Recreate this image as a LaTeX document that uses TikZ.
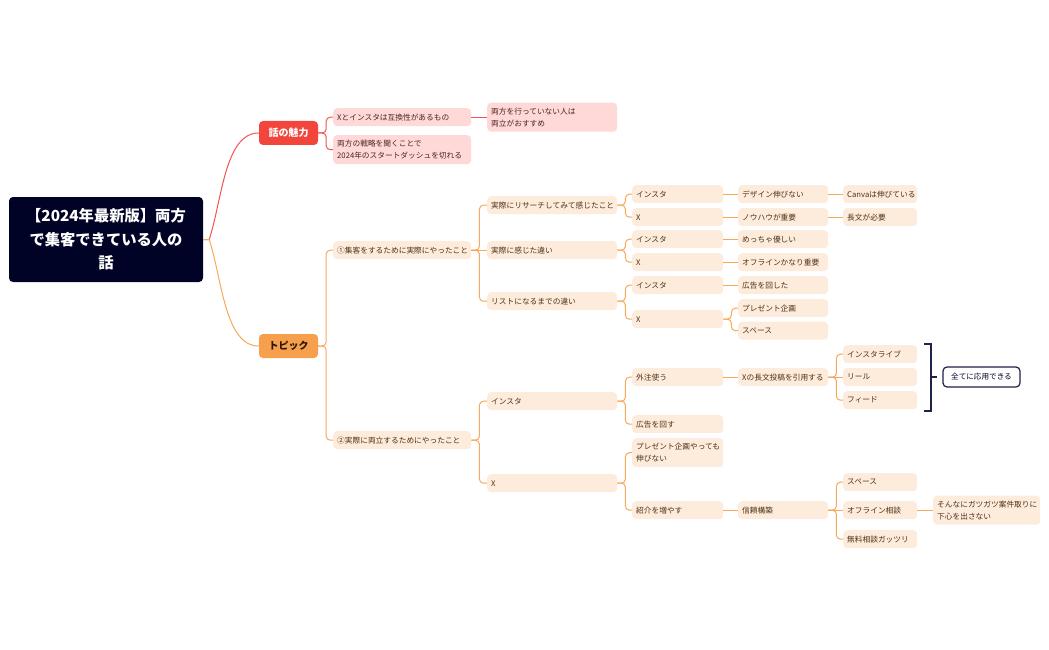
\documentclass[tikz,border=0pt]{standalone}
\usepackage{fontspec}
\newfontfamily\jp{Noto Sans CJK JP}
\definecolor{rootc}{HTML}{000326}
\definecolor{redc}{HTML}{F2463D}
\definecolor{orgc}{HTML}{F6A04D}
\definecolor{pinkbg}{HTML}{FFD8D8}
\definecolor{peachbg}{HTML}{FDEBDC}
\definecolor{redln}{HTML}{F2544E}
\definecolor{orgln}{HTML}{F7A85A}
\definecolor{navy}{HTML}{1E2148}
\definecolor{pinktext}{HTML}{4F2222}
\definecolor{browntext}{HTML}{503214}
\definecolor{topictext}{HTML}{2B1705}
\tikzset{
  basebox/.style={anchor=north west, rounded corners=4pt, inner xsep=4pt, inner ysep=0pt, align=left,
    font=\jp\fontsize{7.7}{12}\selectfont},
  pk/.style={basebox, fill=pinkbg, text=pinktext},
  pc/.style={basebox, fill=peachbg, text=browntext},
  rline/.style={draw=redln, color=redln, line width=1pt, rounded corners=4pt},
  oline/.style={draw=orgln, color=orgln, line width=1pt, rounded corners=4pt},
  mainbox/.style={rounded corners=4pt, minimum width=59pt, minimum height=24pt, inner sep=0pt,
    font=\jp\bfseries\fontsize{10}{12}\selectfont},
}
\newcommand{\mmnode}[7]{\pgfmathsetmacro{\mmtw}{#5-8}\node[#1, text width=\mmtw pt, minimum height=#6pt] (#2) at (#3,#4) {#7};}
\begin{document}
\begin{tikzpicture}[x=1pt,y=-1pt]
\useasboundingbox (0,0) rectangle (1049,650);

% root
\node[fill=rootc, text=white, rounded corners=4pt, minimum width=194pt, minimum height=85pt,
  text width=186pt, inner xsep=4pt, align=center, font=\jp\bfseries\fontsize{15.3}{23.5}\selectfont]
  (root) at (106,239.5) {【2024年最新版】両方\\で集客できている人の\\話};

\node[mainbox, fill=redc, text=white] (miryoku) at (288.5,133) {話の魅力};
\node[mainbox, fill=orgc, text=topictext] (topic) at (288.5,346) {トピック};

% red branch
\mmnode{pk}{r1}{333}{108}{138}{18}{Xとインスタは互換性があるもの}
\mmnode{pk}{r2}{333}{135}{138}{29}{両方の戦略を聞くことで\\2024年のスタートダッシュを切れる}
\mmnode{pk}{r3}{487}{102.5}{130}{29}{両方を行っていない人は\\両立がおすすめ}

% orange branch
\mmnode{pc}{o1}{333}{241}{138}{18}{①集客をするために実際にやったこと}
\mmnode{pc}{o2}{333}{431}{138}{18}{②実際に両立するためにやったこと}

\mmnode{pc}{a1}{487}{196}{130}{18}{実際にリサーチしてみて感じたこと}
\mmnode{pc}{a2}{487}{241}{130}{18}{実際に感じた違い}
\mmnode{pc}{a3}{487}{292}{130}{18}{リストになるまでの違い}
\mmnode{pc}{b1}{487}{392}{130}{18}{インスタ}
\mmnode{pc}{b2}{487}{474}{130}{18}{X}

\mmnode{pc}{c1}{632}{185}{91}{18}{インスタ}
\mmnode{pc}{c2}{632}{208}{91}{18}{X}
\mmnode{pc}{c3}{632}{230}{91}{18}{インスタ}
\mmnode{pc}{c4}{632}{253}{91}{18}{X}
\mmnode{pc}{c5}{632}{276}{91}{18}{インスタ}
\mmnode{pc}{c6}{632}{310}{91}{18}{X}
\mmnode{pc}{d1}{632}{368}{91}{18}{外注使う}
\mmnode{pc}{d2}{632}{415}{91}{18}{広告を回す}
\mmnode{pc}{d3}{632}{438}{91}{29}{プレゼント企画やっても\\伸びない}
\mmnode{pc}{d4}{632}{501}{91}{18}{紹介を増やす}

\mmnode{pc}{e1}{738}{185}{90}{18}{デザイン伸びない}
\mmnode{pc}{e2}{738}{208}{90}{18}{ノウハウが重要}
\mmnode{pc}{e3}{738}{230}{90}{18}{めっちゃ優しい}
\mmnode{pc}{e4}{738}{253}{90}{18}{オフラインかなり重要}
\mmnode{pc}{e5}{738}{276}{90}{18}{広告を回した}
\mmnode{pc}{e6}{738}{299}{90}{18}{プレゼント企画}
\mmnode{pc}{e7}{738}{321.5}{90}{18}{スペース}
\mmnode{pc}{e8}{738}{368}{90}{18}{Xの長文投稿を引用する}
\mmnode{pc}{e9}{738}{501}{90}{18}{信頼構築}

\mmnode{pc}{f1}{843}{185}{74}{18}{Canvaは伸びている}
\mmnode{pc}{f2}{843}{208}{74}{18}{長文が必要}
\mmnode{pc}{f3}{843}{345}{74}{18}{インスタライブ}
\mmnode{pc}{f4}{843}{368}{74}{18}{リール}
\mmnode{pc}{f5}{843}{391}{74}{18}{フィード}
\mmnode{pc}{f6}{843}{473}{74}{18}{スペース}
\mmnode{pc}{f7}{843}{501}{74}{18}{オフライン相談}
\mmnode{pc}{f8}{843}{530}{74}{18}{無料相談ガッツリ}

\mmnode{pc}{g1}{933}{495.5}{107}{29}{そんなにガツガツ案件取りに\\下心を出さない}

\node[draw=navy, line width=1.2pt, fill=white, rounded corners=4pt, minimum width=77pt, minimum height=20pt,
  inner sep=0pt, text=rootc, font=\jp\fontsize{7.6}{9}\selectfont] (all) at (981.5,377) {全てに応用できる};

% root curves
\draw[draw=redln, line width=1pt] (root.east) -- ++(6,0) .. controls +(13,-40) and +(-34,0) .. (miryoku.west);
\draw[draw=orgln, line width=1pt] (root.east) -- ++(6,0) .. controls +(13,40) and +(-34,0) .. (topic.west);

% red connectors
\draw[rline] (miryoku.east) -- ++(8,0) |- (r1.west);
\draw[rline] (miryoku.east) -- ++(8,0) |- (r2.west);
\draw[rline] (r1.east) -- (r3.west);

% orange connectors
\foreach \p/\c in {topic/o1, topic/o2, o1/a1, o1/a3, o2/b1, o2/b2,
  a1/c1, a1/c2, a2/c3, a2/c4, a3/c5, a3/c6, c6/e6, c6/e7,
  b1/d1, b1/d2, b2/d3, b2/d4, e8/f3, e8/f5, e9/f6, e9/f8}
  \draw[oline] (\p.east) -- ++(8,0) |- (\c.west);
\foreach \p/\c in {o1/a2, c1/e1, e1/f1, c2/e2, e2/f2, c3/e3, c4/e4, c5/e5,
  d1/e8, e8/f4, d4/e9, e9/f7, f7/g1}
  \draw[oline] (\p.east) -- (\c.west);

% bracket
\coordinate (btop) at (924,344);
\coordinate (bbot) at (924,411);
\coordinate (bmid) at (931,377);
\draw[navy, line width=1.3pt] (btop) -- ++(7,0) |- (bbot);
\draw[navy, line width=1.3pt, shorten >=5pt] (bmid) -- (all.west);
\end{tikzpicture}
\end{document}
